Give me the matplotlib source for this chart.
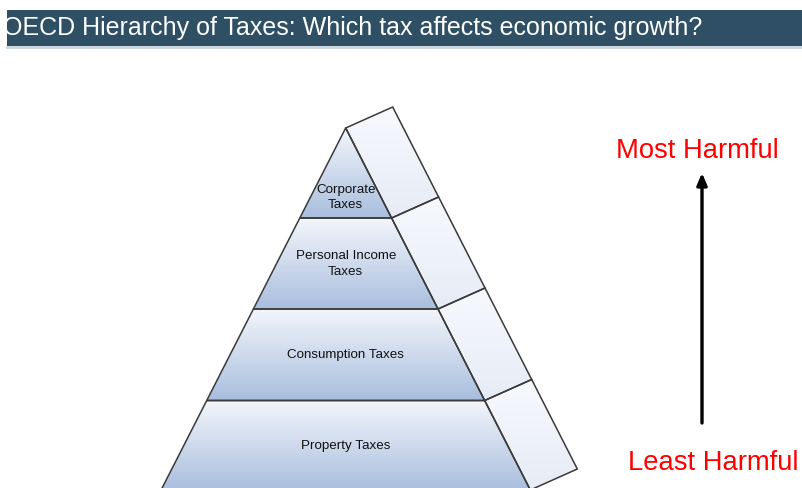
import matplotlib
matplotlib.use("Agg")
import matplotlib.pyplot as plt
import numpy as np
from matplotlib.patches import Polygon, Rectangle, FancyArrowPatch
from matplotlib.colors import LinearSegmentedColormap

title = "OECD Hierarchy of Taxes: Which tax affects economic growth?"
tiers = ["Corporate\nTaxes", "Personal Income\nTaxes", "Consumption Taxes", "Property Taxes"]
top_label = "Most Harmful"
bottom_label = "Least Harmful"

W, H = 802, 488
fig = plt.figure(figsize=(W / 100, H / 100), dpi=100)
ax = fig.add_axes([0, 0, 1, 1])
ax.set_xlim(0, W)
ax.set_ylim(H, 0)
ax.axis("off")

# title bar
bar = Rectangle((7, 10), W - 7, 36, facecolor="#2F4F65", edgecolor="none", zorder=1)
ax.add_patch(bar)
ax.plot([7, W], [46.5, 46.5], color="#C9D4DE", lw=2, zorder=1)
t = ax.text(3, 28, title, color="white", fontsize=18, va="center", ha="left",
            family=["Liberation Sans Narrow", "Liberation Sans", "DejaVu Sans"], zorder=2)
t.set_clip_path(bar)

# pyramid geometry
apex_x, apex_y = 345.7, 128
slope = 0.51
bounds = [apex_y, 218, 309, 400.5, 490]
off = (47, -21)
label_y = [197.5, 264, 355, 446]

def half(y):
    return (y - apex_y) * slope

front_cmap = LinearSegmentedColormap.from_list("f", ["#F3F6FB", "#A9BEDE"])
side_cmap = LinearSegmentedColormap.from_list("s", ["#F7F9FD", "#E6ECF6"])
grad = np.linspace(0, 1, 256).reshape(-1, 1)

for i, name in enumerate(tiers):
    yt, yb = bounds[i], bounds[i + 1]
    lt, rt = apex_x - half(yt), apex_x + half(yt)
    lb, rb = apex_x - half(yb), apex_x + half(yb)
    front = Polygon([(lt, yt), (rt, yt), (rb, yb), (lb, yb)], closed=True,
                    facecolor="none", edgecolor="#3A3A3A", lw=1.1, zorder=4)
    ax.add_patch(front)
    im = ax.imshow(grad, cmap=front_cmap, aspect="auto", origin="upper",
                   extent=(lb, rb, yb, yt), zorder=3)
    im.set_clip_path(front)
    side = Polygon([(rt, yt), (rt + off[0], yt + off[1]), (rb + off[0], yb + off[1]), (rb, yb)],
                   closed=True, facecolor="none", edgecolor="#3A3A3A", lw=1.1, zorder=4)
    ax.add_patch(side)
    im2 = ax.imshow(grad, cmap=side_cmap, aspect="auto", origin="upper",
                    extent=(rt, rb + off[0], yb, yt + off[1]), zorder=3)
    im2.set_clip_path(side)
    ax.text(apex_x, label_y[i], name, ha="center", va="center",
            fontsize=9.6, color="#111111", family=["Liberation Sans", "DejaVu Sans"],
            linespacing=1.4, zorder=5)

ax.set_xlim(0, W)
ax.set_ylim(H, 0)

# harm arrow
ax.add_patch(FancyArrowPatch((702, 423), (702, 173),
                             arrowstyle="-|>,head_length=7,head_width=3",
                             mutation_scale=1, lw=2.4, color="black",
                             shrinkA=0, shrinkB=0, zorder=5))
ax.text(697, 151, top_label, color="#FF0000", fontsize=19.7, ha="center", va="center",
        family=["Liberation Sans", "DejaVu Sans"])
ax.text(799, 463, bottom_label, color="#FF0000", fontsize=19.7, ha="right", va="center",
        family=["Liberation Sans", "DejaVu Sans"])

fig.savefig("out.png", dpi=100)
